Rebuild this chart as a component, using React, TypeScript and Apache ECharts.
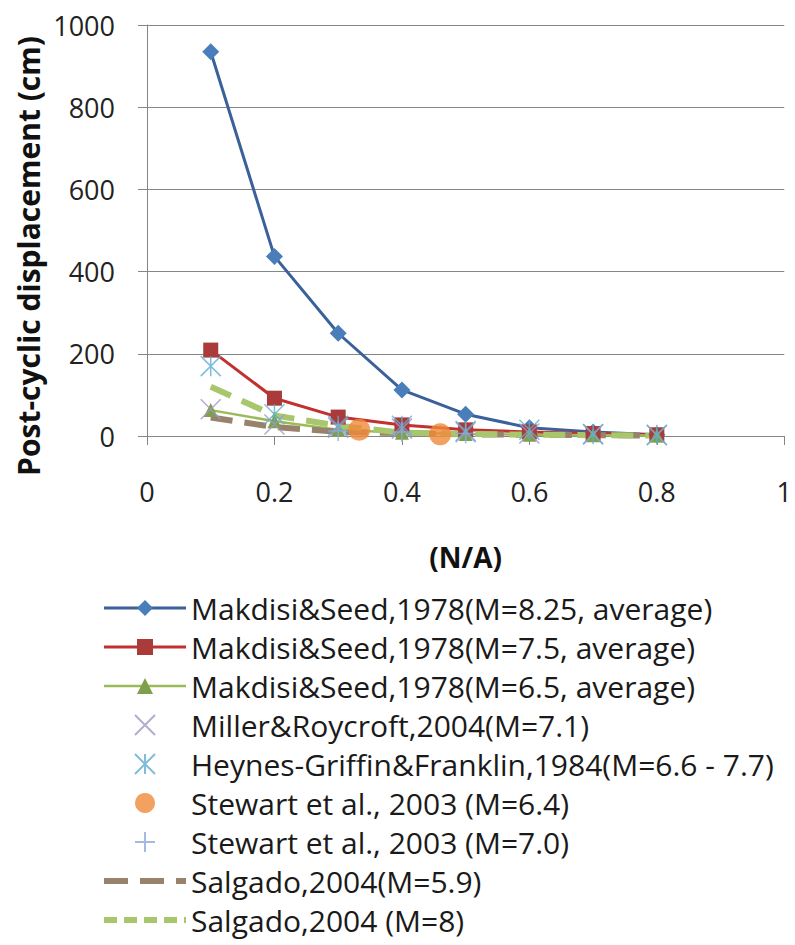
import React, { useEffect, useRef } from "react";
import * as echarts from "echarts";

// N/A values shared by the Makdisi & Seed curves and the point sets
const xValues = [0.1, 0.2, 0.3, 0.4, 0.5, 0.6, 0.7, 0.8];
const xTickLabels = ["0", "0.2", "0.4", "0.6", "0.8", "1"];
const yTickLabels = ["0", "200", "400", "600", "800", "1000"];

const seriesNames = [
  "Makdisi&Seed,1978(M=8.25, average)",
  "Makdisi&Seed,1978(M=7.5, average)",
  "Makdisi&Seed,1978(M=6.5, average)",
  "Miller&Roycroft,2004(M=7.1)",
  "Heynes-Griffin&Franklin,1984(M=6.6 - 7.7)",
  "Stewart et al., 2003 (M=6.4)",
  "Stewart et al., 2003 (M=7.0)",
  "Salgado,2004(M=5.9)",
  "Salgado,2004 (M=8)",
];

const makdisi825 = [935, 437, 250, 112, 53, 20, 10, 3];
const makdisi75 = [209, 92, 46, 27, 15, 10, 6, 3];
const makdisi65 = [63, 36, 15, 8, 5, 3, 2, 1];
const miller = [65, 28, 20, 18, 9, 6, 4, 2];
const heynes = [170, 53, 25, 25, 12, 15, 5, 3];
const stewart64X = [0.333, 0.46];
const stewart64 = [15, 4];
const stewart70X = [0.3, 0.4, 0.5];
const stewart70 = [12, 10, 6];
const salgado59 = [45, 22, 10, 7, 4, 3, 2, 1];
const salgado8 = [120, 50, 25, 8, 5, 3, 2, 1];

const pairs = (xs: number[], ys: number[]) => ys.map((y, i) => [xs[i], y]);

const FONT = '"Open Sans", "Noto Sans", sans-serif';

export default function App() {
  const ref = useRef<HTMLDivElement>(null);

  useEffect(() => {
    if (!ref.current) return;
    const chart = echarts.init(ref.current, null, { renderer: "svg" });

    const xSym = "path://M0,0L10,10M10,0L0,10";
    const starSym = "path://M0,0L10,10M10,0L0,10M5,0L5,10";
    const plusSym = "path://M5,0L5,10M0,5L10,5";

    const legendData = seriesNames.map((name, i) =>
      i >= 7
        ? { name, itemStyle: { opacity: 0 }, lineStyle: { width: 6, type: i === 7 ? [24, 12] : [13, 7] } }
        : { name }
    );

    chart.setOption({
      animation: false,
      backgroundColor: "#ffffff",
      textStyle: { fontFamily: FONT },
      grid: { left: 147, right: 7, top: 25, height: 411 },
      xAxis: {
        type: "value",
        min: 0,
        max: 1,
        interval: 0.2,
        name: "(N/A)",
        nameLocation: "middle",
        nameGap: 107,
        nameTextStyle: { fontSize: 28, fontWeight: "bold", color: "#111", fontFamily: FONT },
        axisLine: { show: true, lineStyle: { color: "#868686", width: 1 } },
        axisTick: { show: true, length: 9, lineStyle: { color: "#868686" } },
        splitLine: { show: false },
        axisLabel: {
          fontSize: 27,
          color: "#222",
          margin: 42,
          fontFamily: FONT,
          formatter: (v: number) => xTickLabels[Math.round(v / 0.2)] ?? String(v),
        },
      },
      yAxis: {
        type: "value",
        min: 0,
        max: 1000,
        interval: 200,
        axisLine: { show: true, lineStyle: { color: "#868686", width: 1 } },
        axisTick: { show: true, length: 9, lineStyle: { color: "#868686" } },
        splitLine: { show: true, lineStyle: { color: "#868686", width: 1 } },
        axisLabel: {
          fontSize: 27,
          color: "#222",
          margin: 32,
          fontFamily: FONT,
          formatter: (v: number) => yTickLabels[Math.round(v / 200)] ?? String(v),
        },
      },
      graphic: [
        {
          type: "text",
          x: 28,
          y: 256,
          rotation: Math.PI / 2,
          style: {
            text: "Post-cyclic displacement (cm)",
            font: `bold 30px ${FONT}`,
            fill: "#111",
            align: "center",
            verticalAlign: "middle",
          },
        },
      ],
      legend: {
        orient: "vertical",
        left: 96,
        top: 588,
        itemWidth: 82,
        itemHeight: 20,
        itemGap: 9,
        lineStyle: { width: "inherit" },
        textStyle: { fontSize: 30, color: "#1a1a1a", lineHeight: 29.5, fontFamily: FONT },
        data: legendData,
      },
      series: [
        {
          type: "line",
          name: seriesNames[0],
          data: pairs(xValues, makdisi825),
          symbol: "diamond",
          symbolSize: 17,
          lineStyle: { color: "#3A619A", width: 3 },
          itemStyle: { color: "#4A7EBB" },
          z: 3,
        },
        {
          type: "line",
          name: seriesNames[1],
          data: pairs(xValues, makdisi75),
          symbol: "rect",
          symbolSize: 15,
          lineStyle: { color: "#C0312F", width: 3 },
          itemStyle: { color: "#A93B3B" },
          z: 3,
        },
        {
          type: "line",
          name: seriesNames[2],
          data: pairs(xValues, makdisi65),
          symbol: "triangle",
          symbolSize: 14,
          lineStyle: { color: "#9BBB59", width: 2.5 },
          itemStyle: { color: "#7FA04A" },
          z: 3,
        },
        {
          type: "scatter",
          name: seriesNames[3],
          data: pairs(xValues, miller),
          symbol: xSym,
          symbolSize: 20,
          itemStyle: { color: "#A197C4", borderColor: "#A197C4", borderWidth: 1.5 },
          z: 4,
        },
        {
          type: "scatter",
          name: seriesNames[4],
          data: pairs(xValues, heynes),
          symbol: starSym,
          symbolSize: 20,
          itemStyle: { color: "#5FAECF", borderColor: "#5FAECF", borderWidth: 1.5 },
          z: 4,
        },
        {
          type: "scatter",
          name: seriesNames[5],
          data: pairs(stewart64X, stewart64),
          symbol: "circle",
          symbolSize: 22,
          itemStyle: { color: "#F08A3A" },
          z: 5,
        },
        {
          type: "scatter",
          name: seriesNames[6],
          data: pairs(stewart70X, stewart70),
          symbol: plusSym,
          symbolSize: 20,
          itemStyle: { color: "#8DA9DB", borderColor: "#8DA9DB", borderWidth: 1.5 },
          z: 4,
        },
        {
          type: "line",
          name: seriesNames[7],
          data: pairs(xValues, salgado59),
          symbol: "none",
          lineStyle: { color: "#98826C", width: 6, type: [22, 12] },
          itemStyle: { color: "#98826C" },
          z: 3,
        },
        {
          type: "line",
          name: seriesNames[8],
          data: pairs(xValues, salgado8),
          symbol: "none",
          lineStyle: { color: "#A8C66C", width: 6, type: [22, 12] },
          itemStyle: { color: "#A8C66C" },
          z: 3,
        },
      ],
    });

    return () => chart.dispose();
  }, []);

  return (
    <div
      ref={ref}
      style={{ position: "fixed", left: 0, top: 0, width: 795, height: 980, background: "#fff" }}
    />
  );
}
